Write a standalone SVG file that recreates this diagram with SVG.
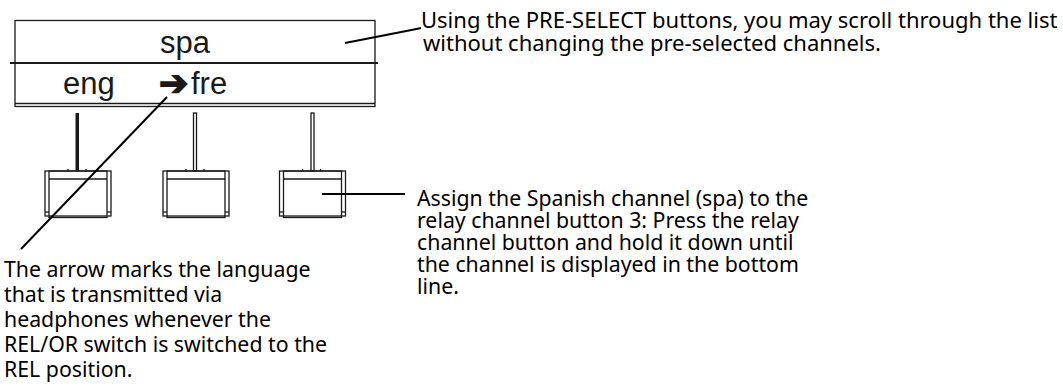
<svg xmlns="http://www.w3.org/2000/svg" width="1063" height="389" viewBox="0 0 1063 389">
<style>
.ln{fill:none;stroke:#1a1a1a;stroke-width:1.3}
.ld{fill:none;stroke:#000;stroke-width:2}
.lcd{font-family:"Liberation Sans",Arial,sans-serif;font-size:31px;fill:#1a1a1a}
.txt{font-family:"Noto Sans","Open Sans",sans-serif;font-size:21.3px;fill:#000}
.txt2{font-family:"Noto Sans","Open Sans",sans-serif;font-size:22px;fill:#000}
</style>
<defs>
<g id="btn">
<rect class="ln" x="0" y="0" width="66" height="45"/>
<rect class="ln" x="4" y="0" width="58" height="46.5"/>
<line class="ln" x1="4" y1="8" x2="62" y2="8"/>
<line class="ln" x1="0" y1="41" x2="4" y2="41"/>
<line class="ln" x1="62" y1="41" x2="66" y2="41"/>
<line class="ln" x1="23" y1="0" x2="23" y2="-2"/>
<line class="ln" x1="41" y1="0" x2="41" y2="-2"/>
</g>
</defs>
<g id="display">
<rect class="ln" x="15" y="20.5" width="360" height="86"/>
<line x1="10" y1="63" x2="378" y2="63" stroke="#1a1a1a" stroke-width="2.2"/>
<line class="ln" x1="15" y1="103.5" x2="375" y2="103.5"/>
<text class="lcd" x="185" y="53" text-anchor="middle">spa</text>
<text class="lcd" x="63" y="94">eng</text>
<text class="lcd" x="159" y="95"><tspan font-family="DejaVu Sans" font-weight="bold" font-size="35" stroke="#1a1a1a" stroke-width="1.6" stroke-linejoin="miter">➔</tspan><tspan x="191" y="94">fre</tspan></text>
</g>
<g id="button1">
<rect x="75.5" y="113" width="3.5" height="58" fill="#1a1a1a"/>
<use href="#btn" x="45" y="171"/>
</g>
<g id="button2">
<rect class="ln" x="193.5" y="113" width="3" height="58"/>
<use href="#btn" x="163" y="171"/>
</g>
<g id="button3">
<rect class="ln" x="311" y="113" width="3" height="58"/>
<use href="#btn" x="279.5" y="171"/>
</g>
<g id="connectors">
<polyline class="ld" points="345,43 414,29.5 421,28"/>
<line class="ld" x1="167" y1="97" x2="21" y2="249"/>
<line class="ld" x1="322" y1="194" x2="405" y2="194"/>
</g>
<g id="label-top">
<text class="txt2"><tspan x="421" y="28">Using the PRE-SELECT buttons, you may scroll through the list</tspan><tspan x="423" y="51">without changing the pre-selected channels.</tspan></text>
</g>
<g id="label-right">
<text class="txt"><tspan x="417" y="206">Assign the Spanish channel (spa) to the</tspan><tspan x="417" y="228">relay channel button 3: Press the relay</tspan><tspan x="417" y="250">channel button and hold it down until</tspan><tspan x="417" y="272">the channel is displayed in the bottom</tspan><tspan x="417" y="294">line.</tspan></text>
</g>
<g id="label-left">
<text class="txt"><tspan x="4" y="277">The arrow marks the language</tspan><tspan x="4" y="302">that is transmitted via</tspan><tspan x="4" y="327">headphones whenever the</tspan><tspan x="4" y="352">REL/OR switch is switched to the</tspan><tspan x="4" y="377">REL position.</tspan></text>
</g>
</svg>
